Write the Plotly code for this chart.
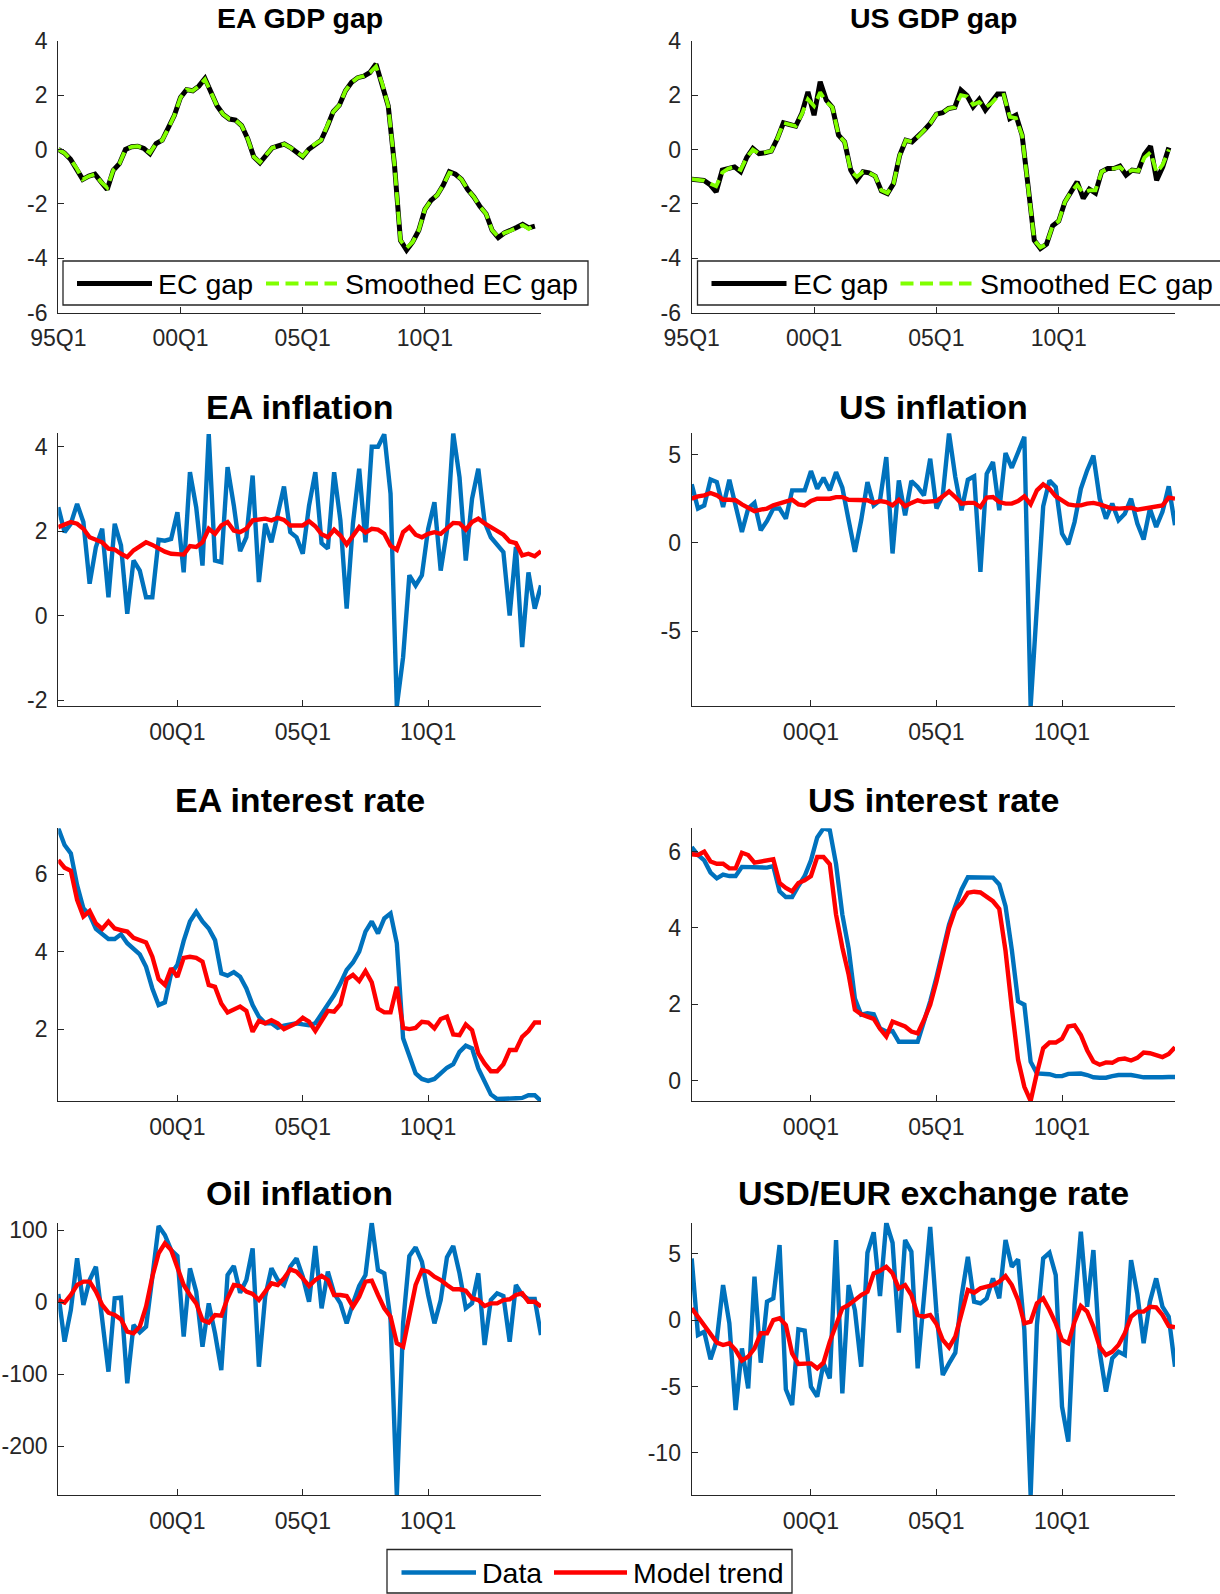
import plotly.graph_objects as go

FONT = "Liberation Sans, Arial, Helvetica, sans-serif"
AXIS_COLOR = "#262626"
BLUE = "#0072BD"
RED = "#FF0000"
BLACK = "#000000"
GREEN = "#80FF00"

FIG_W, FIG_H = 1220, 1594

# quarter index 0 = 1995Q1
tick_quarters = [0, 20, 40, 60]
tick_labels = ["95Q1", "00Q1", "05Q1", "10Q1"]
gap_axis_end = 79  # 2014Q4

gap_names = ["EC gap", "Smoothed EC gap"]
series_names = ["Data", "Model trend"]

# ---- output gaps, 1995Q1 - 2014Q3 ----
ea_gap = [0.0, -0.13, -0.36, -0.69, -1.1, -0.98, -0.91, -1.19, -1.47, -0.76,
          -0.52, 0.0, 0.1, 0.12, 0.04, -0.15, 0.22, 0.34, 0.77, 1.26,
          1.91, 2.2, 2.16, 2.33, 2.61, 2.06, 1.6, 1.29, 1.12, 1.08,
          0.88, 0.4, -0.27, -0.49, -0.18, 0.06, 0.13, 0.2, 0.07, -0.09,
          -0.27, 0.01, 0.2, 0.34, 0.83, 1.39, 1.63, 2.16, 2.47, 2.64,
          2.7, 2.83, 3.14, 2.43, 1.6, -0.52, -3.34, -3.7, -3.4, -2.97,
          -2.2, -1.87, -1.68, -1.31, -0.82, -0.91, -1.1, -1.47, -1.74, -2.09,
          -2.36, -2.97, -3.24, -3.07, -2.99, -2.87, -2.75, -2.88, -2.82]
ea_gap_smoothed = [0.0, -0.13, -0.36, -0.69, -1.1, -0.98, -0.91, -1.19, -1.4, -0.76,
                   -0.52, 0.0, 0.1, 0.12, 0.04, -0.12, 0.22, 0.34, 0.77, 1.26,
                   1.91, 2.2, 2.16, 2.33, 2.58, 2.06, 1.6, 1.29, 1.12, 1.08,
                   0.88, 0.4, -0.27, -0.47, -0.18, 0.06, 0.13, 0.2, 0.07, -0.09,
                   -0.25, 0.01, 0.2, 0.34, 0.83, 1.39, 1.63, 2.16, 2.47, 2.64,
                   2.7, 2.83, 3.05, 2.43, 1.6, -0.52, -3.34, -3.62, -3.4, -2.97,
                   -2.2, -1.87, -1.68, -1.31, -0.85, -0.91, -1.1, -1.47, -1.74, -2.09,
                   -2.36, -2.97, -3.2, -3.07, -2.99, -2.87, -2.78, -2.92, -2.75]
us_gap = [-1.09, -1.1, -1.14, -1.29, -1.56, -0.76, -0.7, -0.64, -0.82, -0.29,
          0.04, -0.15, -0.12, -0.06, 0.4, 0.98, 0.92, 0.86, 1.33, 2.12,
          1.26, 2.49, 1.82, 1.55, 0.53, 0.28, -0.76, -1.13, -0.82, -0.86,
          -0.98, -1.52, -1.62, -1.25, -0.21, 0.34, 0.28, 0.47, 0.71, 0.96,
          1.3, 1.35, 1.51, 1.55, 2.18, 1.98, 1.57, 1.84, 1.45, 1.75,
          2.04, 2.04, 1.14, 1.26, 0.53, -1.37, -3.34, -3.64, -3.48, -2.8,
          -2.63, -1.93, -1.56, -1.19, -1.8, -1.46, -1.6, -0.82, -0.7, -0.7,
          -0.61, -0.94, -0.76, -0.79, -0.18, 0.12, -1.13, -0.64, 0.07]
us_gap_smoothed = [-1.09, -1.1, -1.14, -1.25, -1.35, -0.85, -0.7, -0.64, -0.75, -0.29,
                   0.0, -0.15, -0.12, -0.06, 0.4, 0.98, 0.92, 0.86, 1.3, 1.85,
                   1.6, 2.1, 1.75, 1.55, 0.53, 0.28, -0.8, -1.0, -0.82, -0.86,
                   -0.98, -1.5, -1.6, -1.25, -0.21, 0.34, 0.28, 0.47, 0.71, 0.96,
                   1.3, 1.35, 1.51, 1.55, 2.0, 1.95, 1.65, 1.75, 1.55, 1.7,
                   1.95, 2.0, 1.2, 1.15, 0.53, -1.37, -3.34, -3.6, -3.48, -2.8,
                   -2.63, -1.93, -1.56, -1.3, -1.6, -1.5, -1.5, -0.82, -0.7, -0.7,
                   -0.65, -0.85, -0.76, -0.79, -0.3, -0.1, -0.85, -0.55, 0.0]

# ---- data and model trends, 1995Q2 - 2014Q3 ----
ea_infl_data = [2.57, 1.98, 2.18, 2.65, 2.22, 0.76, 1.63, 2.06, 0.44, 2.18,
                1.67, 0.05, 1.31, 1.07, 0.44, 0.44, 1.8, 1.78, 1.82, 2.45,
                1.03, 3.4, 2.57, 1.19, 4.3, 1.31, 1.27, 3.52, 2.61, 1.53,
                1.86, 3.32, 0.8, 2.18, 1.74, 2.41, 3.06, 1.98, 1.86, 1.47,
                2.61, 3.4, 1.72, 1.59, 3.4, 2.26, 0.17, 2.18, 3.48, 1.74,
                4.0, 4.0, 4.3, 2.89, -2.14, -0.98, 0.96, 0.72, 0.96, 2.06,
                2.69, 1.07, 2.02, 4.32, 3.28, 1.31, 2.77, 3.48, 2.22, 1.86,
                1.7, 1.51, 0.01, 1.63, -0.74, 1.03, 0.17, 0.72]
ea_infl_trend = [2.1, 2.16, 2.22, 2.18, 2.06, 1.86, 1.8, 1.74, 1.59, 1.57,
                 1.47, 1.39, 1.55, 1.64, 1.74, 1.68, 1.6, 1.52, 1.47, 1.47,
                 1.45, 1.65, 1.63, 1.74, 2.06, 1.94, 2.14, 2.22, 2.02, 1.98,
                 2.06, 2.26, 2.27, 2.3, 2.26, 2.32, 2.27, 2.14, 2.14, 2.14,
                 2.24, 2.12, 1.93, 1.86, 2.04, 1.9, 1.69, 1.9, 2.1, 1.97,
                 2.06, 2.04, 1.94, 1.66, 1.56, 1.98, 2.1, 1.92, 1.86, 1.94,
                 1.98, 1.94, 2.06, 2.2, 2.19, 2.04, 2.22, 2.3, 2.19, 2.1,
                 2.04, 1.92, 1.76, 1.72, 1.43, 1.47, 1.41, 1.53]

us_infl_data = [3.31, 1.94, 2.12, 3.59, 3.44, 2.03, 3.57, 2.2, 0.62, 1.94,
                2.26, 0.71, 1.24, 1.94, 1.94, 1.37, 2.97, 2.97, 2.97, 4.06,
                3.06, 3.68, 2.97, 4.0, 3.12, 1.28, -0.51, 1.28, 3.44, 2.12,
                2.41, 4.85, -0.6, 3.53, 1.56, 3.5, 3.16, 2.69, 4.76, 1.94,
                2.69, 6.2, 3.72, 1.84, 3.57, 3.76, -1.64, 3.91, 4.57, 1.84,
                5.08, 4.25, 5.13, 6.0, -9.25, -3.5, 2.07, 3.53, 3.16, 0.53,
                -0.08, 1.18, 3.06, 4.1, 4.94, 2.5, 1.37, 2.22, 1.28, 1.65,
                2.5, 1.09, 0.19, 1.94, 0.9, 1.75, 3.2, 1.0]
us_infl_trend = [2.5, 2.63, 2.69, 2.82, 2.69, 2.44, 2.44, 2.41, 2.18, 1.99,
                 1.79, 1.88, 1.94, 2.12, 2.22, 2.37, 2.44, 2.18, 2.12, 2.37,
                 2.5, 2.5, 2.5, 2.59, 2.59, 2.44, 2.44, 2.44, 2.41, 2.26,
                 2.37, 2.31, 2.12, 2.44, 2.07, 2.26, 2.41, 2.31, 2.37, 2.37,
                 2.63, 2.91, 2.59, 2.22, 2.26, 2.26, 2.03, 2.56, 2.59, 2.31,
                 2.22, 2.22, 2.37, 2.63, 2.18, 2.97, 3.31, 3.06, 2.63, 2.37,
                 2.18, 2.12, 2.12, 2.22, 2.26, 2.18, 2.03, 1.94, 1.94, 1.97,
                 1.99, 1.88, 1.94, 2.03, 2.12, 2.12, 2.56, 2.5]

ea_rate_data = [7.19, 6.76, 6.54, 5.72, 5.12, 4.95, 4.59, 4.45, 4.33, 4.33,
                4.45, 4.22, 4.07, 3.93, 3.61, 3.05, 2.62, 2.69, 3.44, 3.66,
                4.28, 4.78, 5.03, 4.78, 4.6, 4.3, 3.44, 3.38, 3.47, 3.35,
                3.05, 2.62, 2.32, 2.15, 2.15, 2.03, 2.09, 2.12, 2.15, 2.12,
                2.1, 2.15, 2.38, 2.62, 2.88, 3.18, 3.53, 3.72, 4.0, 4.52,
                4.78, 4.47, 4.86, 4.99, 4.22, 1.76, 1.33, 0.85, 0.71, 0.66,
                0.71, 0.85, 1.0, 1.09, 1.41, 1.57, 1.5, 0.98, 0.64, 0.31,
                0.19, 0.19, 0.19, 0.21, 0.22, 0.29, 0.29, 0.14]
ea_rate_trend = [6.37, 6.17, 6.09, 5.34, 4.91, 5.05, 4.73, 4.59, 4.78, 4.6,
                 4.56, 4.52, 4.36, 4.3, 4.24, 3.87, 3.29, 3.14, 3.57, 3.35,
                 3.84, 3.87, 3.84, 3.74, 3.14, 3.09, 2.66, 2.43, 2.49, 2.58,
                 2.47, 1.93, 2.21, 2.15, 2.23, 2.15, 2.0, 2.06, 2.15, 2.29,
                 2.19, 1.95, 2.21, 2.47, 2.45, 2.64, 3.29, 3.4, 3.24, 3.5,
                 3.21, 2.53, 2.43, 2.43, 3.09, 2.03, 2.0, 2.03, 2.19, 2.17,
                 2.02, 2.26, 2.32, 1.86, 1.84, 2.12, 1.97, 1.37, 1.11, 0.91,
                 0.91, 1.09, 1.46, 1.46, 1.8, 1.95, 2.17, 2.17]

us_rate_data = [6.12, 5.91, 5.77, 5.45, 5.3, 5.4, 5.36, 5.36, 5.6, 5.6,
                5.6, 5.58, 5.58, 5.62, 4.96, 4.81, 4.81, 5.1, 5.36, 5.77,
                6.37, 6.61, 6.56, 5.67, 4.35, 3.47, 2.15, 1.73, 1.77, 1.74,
                1.37, 1.29, 1.3, 1.02, 1.02, 1.02, 1.02, 1.55, 2.08, 2.71,
                3.39, 4.09, 4.57, 5.01, 5.33, 5.33, 5.33, 5.33, 5.32, 5.14,
                4.57, 3.43, 2.08, 1.99, 0.5, 0.19, 0.19, 0.17, 0.12, 0.12,
                0.18, 0.19, 0.19, 0.15, 0.09, 0.08, 0.08, 0.12, 0.15, 0.15,
                0.15, 0.12, 0.09, 0.09, 0.08, 0.09, 0.1, 0.1]
us_rate_trend = [5.93, 5.91, 6.0, 5.74, 5.68, 5.68, 5.56, 5.56, 5.97, 5.91,
                 5.71, 5.74, 5.75, 5.8, 5.18, 5.05, 4.96, 5.18, 5.25, 5.36,
                 5.86, 5.86, 5.67, 4.35, 3.49, 2.78, 1.86, 1.74, 1.68, 1.62,
                 1.36, 1.16, 1.55, 1.48, 1.42, 1.29, 1.24, 1.59, 1.99, 2.6,
                 3.3, 4.0, 4.48, 4.66, 4.92, 4.95, 4.93, 4.8, 4.7, 4.5,
                 3.4, 1.9, 0.55, -0.16, -0.53, 0.2, 0.85, 1.0, 1.0, 1.1,
                 1.42, 1.45, 1.2, 0.8, 0.5, 0.42, 0.48, 0.47, 0.56, 0.58,
                 0.53, 0.6, 0.74, 0.72, 0.67, 0.62, 0.7, 0.88]

oil_data = [11.6, -54.6, -10.6, 61.1, -3.7, 31.0, 49.5, -29.2, -96.3, 5.6,
            6.5, -112.5, -31.5, -41.7, -33.8, 35.0, 106.0, 93.5, 72.7, 64.4,
            -47.7, 47.2, 14.8, -61.6, -1.4, -43.0, -94.0, 38.0, 50.5, 13.4,
            31.0, 75.0, -89.4, 7.9, 47.2, 31.0, 24.1, 49.5, 61.1, 35.6,
            0.9, 78.2, -8.3, 42.6, 12.5, -1.4, -29.2, -1.4, 22.7, 38.0,
            110.6, 44.9, 40.3, -24.5, -267.6, -29.2, 64.4, 76.4, 56.5, 10.2,
            -29.2, 3.2, 62.5, 78.2, 40.3, -8.3, -1.4, 40.3, -59.3, 3.2,
            12.5, 8.8, -54.6, 24.1, 10.2, 4.6, 4.6, -45.4]
oil_trend = [3.2, -0.5, 10.2, 24.1, 28.7, 28.7, 14.8, -3.7, -14.4, -17.6,
             -23.6, -40.7, -43.0, -33.8, -6.0, 35.6, 68.0, 81.9, 72.7, 49.5,
             24.1, 10.2, -1.4, -24.5, -28.2, -17.6, -18.5, 5.6, 24.1, 22.7,
             14.8, 11.6, 3.2, 14.8, 26.4, 24.1, 33.3, 45.8, 42.6, 33.3,
             22.7, 31.0, 36.6, 31.0, 10.2, 10.2, 8.8, -6.0, 7.9, 28.7,
             30.1, 10.2, -8.3, -19.9, -56.9, -61.6, -17.6, 24.1, 44.9, 42.6,
             35.6, 31.0, 24.1, 18.1, 18.1, 16.2, 5.6, 3.2, -5.1, -1.4,
             -1.4, 3.2, 4.2, 10.2, 12.5, 0.9, 0.9, -6.0]

fx_data = [4.64, -1.13, -0.88, -2.96, -1.5, 2.63, -0.25, -6.77, -2.13, -5.14,
           3.26, -3.21, 1.38, 1.63, 5.64, -5.21, -6.39, -0.7, -0.8, -5.01,
           -5.76, -3.26, -4.39, 6.02, -5.51, 2.63, 0.75, -3.51, 5.06, 6.6,
           1.8, 7.32, 5.81, -0.95, 6.02, 5.14, -3.63, 1.75, 7.0, 0.55,
           -4.14, -3.26, -2.46, 1.8, 4.76, 1.38, 1.25, 1.63, 3.13, 1.63,
           6.02, 4.01, 4.56, -0.75, -13.16, -0.38, 4.64, 5.06, 3.38, -6.52,
           -9.15, 1.13, 6.64, 1.0, 5.26, -2.38, -5.39, -2.88, -2.38, -2.63,
           4.51, 1.95, -1.75, 1.38, 3.13, 1.0, 0.25, -3.51]
fx_trend = [0.88, 0.25, -0.5, -1.0, -1.7, -1.88, -1.75, -2.26, -3.06, -2.76,
            -2.13, -1.0, -1.0, 0.0, 0.13, -0.38, -2.51, -3.31, -3.26, -3.26,
            -3.63, -3.21, -1.63, -0.38, 0.88, 1.13, 1.5, 1.88, 2.13, 3.51,
            3.71, 4.01, 3.51, 2.38, 2.63, 1.88, 0.38, 0.25, 0.38, -0.3,
            -1.5, -2.06, -1.25, 0.38, 2.26, 2.06, 2.38, 2.51, 2.63, 2.88,
            3.31, 2.63, 1.5, -0.25, -0.13, 1.25, 1.63, 0.75, -0.25, -1.5,
            -1.75, -0.13, 1.05, 0.63, -0.5, -2.01, -2.63, -2.38, -1.88, -1.0,
            0.25, 0.63, 0.63, 1.0, 0.95, 0.38, -0.45, -0.55]

panels = [
    ("EA GDP gap", 0, 0, ea_gap, ea_gap_smoothed, [-6, -4, -2, 0, 2, 4]),
    ("US GDP gap", 0, 1, us_gap, us_gap_smoothed, [-6, -4, -2, 0, 2, 4]),
    ("EA inflation", 1, 0, ea_infl_data, ea_infl_trend, [-2, 0, 2, 4]),
    ("US inflation", 1, 1, us_infl_data, us_infl_trend, [-5, 0, 5]),
    ("EA interest rate", 2, 0, ea_rate_data, ea_rate_trend, [2, 4, 6]),
    ("US interest rate", 2, 1, us_rate_data, us_rate_trend, [0, 2, 4, 6]),
    ("Oil inflation", 3, 0, oil_data, oil_trend, [-200, -100, 0, 100]),
    ("USD/EUR exchange rate", 3, 1, fx_data, fx_trend, [-10, -5, 0, 5]),
]

# axes boxes in pixels
col_px = [(58.3, 541.0), (691.7, 1175.0)]
row_px = [(40.7, 312.7), (433.3, 706.3), (828.3, 1101.0), (1222.7, 1495.0)]
title_y_px = [18.5, 406.5, 800.0, 1193.0]

# line styles
gap_styles = [dict(color=BLACK, width=5.0), dict(color=GREEN, width=3.8, dash="13px,6.5px")]
data_styles = [dict(color=BLUE, width=4.4), dict(color=RED, width=4.4)]


def px_x(v):
    return v / FIG_W


def px_y(v):
    return 1 - v / FIG_H


fig = go.Figure()
layout = dict(
    template="none",
    width=FIG_W, height=FIG_H,
    margin=dict(l=0, r=0, t=0, b=0, pad=0, autoexpand=False),
    paper_bgcolor="white", plot_bgcolor="white",
    showlegend=False,
    font=dict(family=FONT, color=AXIS_COLOR),
)
annotations = []
shapes = []

axis_style = dict(
    showline=True, linecolor=AXIS_COLOR, linewidth=1.3,
    ticks="inside", ticklen=6, tickwidth=1.3, tickcolor=AXIS_COLOR,
    showgrid=False, zeroline=False, mirror=False, automargin=False,
    tickfont=dict(family=FONT, size=23, color=AXIS_COLOR),
)

for k, (title, r, c, first, second, yticks) in enumerate(panels, start=1):
    xa = "x" if k == 1 else f"x{k}"
    ya = "y" if k == 1 else f"y{k}"
    is_gap = r == 0
    if is_gap:
        x = list(range(len(first)))
        names, styles = gap_names, gap_styles
        xrange = [0, gap_axis_end]
        yrange = [min(yticks), max(yticks)]
    else:
        x = list(range(1, len(first) + 1))
        names, styles = series_names, data_styles
        xrange = [x[0], x[-1]]
        yrange = [min(first + second), max(first + second)]
    for ys, name, st in zip((first, second), names, styles):
        fig.add_trace(go.Scatter(x=x, y=ys, mode="lines", name=name,
                                 line=st, xaxis=xa, yaxis=ya))

    x0, x1 = col_px[c]
    y0, y1 = row_px[r]
    xkey = "xaxis" if k == 1 else f"xaxis{k}"
    ykey = "yaxis" if k == 1 else f"yaxis{k}"
    layout[xkey] = dict(axis_style, domain=[px_x(x0), px_x(x1)], anchor=ya,
                        range=xrange, tickvals=tick_quarters, ticktext=tick_labels,
                        ticklabelstandoff=5)
    # plain hyphen for negative labels
    layout[ykey] = dict(axis_style, domain=[px_y(y1), px_y(y0)], anchor=xa,
                        range=yrange, tickvals=yticks, ticktext=[str(v) for v in yticks],
                        ticklabelstandoff=5)
    annotations.append(dict(
        text=f"<b>{title}</b>", x=px_x((x0 + x1) / 2), y=px_y(title_y_px[r]),
        xref="paper", yref="paper", xanchor="center", yanchor="middle",
        showarrow=False, font=dict(family=FONT, size=28.5 if is_gap else 34, color="black"),
    ))


def add_legend(box, keys, text_x, y, names, styles):
    bx0, by0, bx1, by1 = box
    shapes.append(dict(type="rect", xref="paper", yref="paper",
                       x0=px_x(bx0), x1=px_x(bx1), y0=px_y(by1), y1=px_y(by0),
                       line=dict(color=AXIS_COLOR, width=1.3), fillcolor="white", layer="above"))
    for (kx0, kx1), tx, name, st in zip(keys, text_x, names, styles):
        shapes.append(dict(type="line", xref="paper", yref="paper",
                           x0=px_x(kx0), x1=px_x(kx1), y0=px_y(y), y1=px_y(y),
                           line=st, layer="above"))
        annotations.append(dict(text=name, x=px_x(tx), y=px_y(y), xref="paper", yref="paper",
                                xanchor="left", yanchor="middle", showarrow=False,
                                font=dict(family=FONT, size=28.5, color="black")))


for bx in (63.0, 697.5):
    add_legend((bx, 261.0, bx + 525.0, 305.0),
               [(bx + 14, bx + 89), (bx + 203, bx + 274)],
               [bx + 93, bx + 280], 283.5, gap_names, gap_styles)

add_legend((387.0, 1549.5, 792.0, 1593.0),
           [(401.5, 476.0), (554.0, 627.0)],
           [480.0, 631.0], 1572.5, series_names, data_styles)

layout["annotations"] = annotations
layout["shapes"] = shapes
fig.update_layout(**layout)
fig.write_html("out.html")
